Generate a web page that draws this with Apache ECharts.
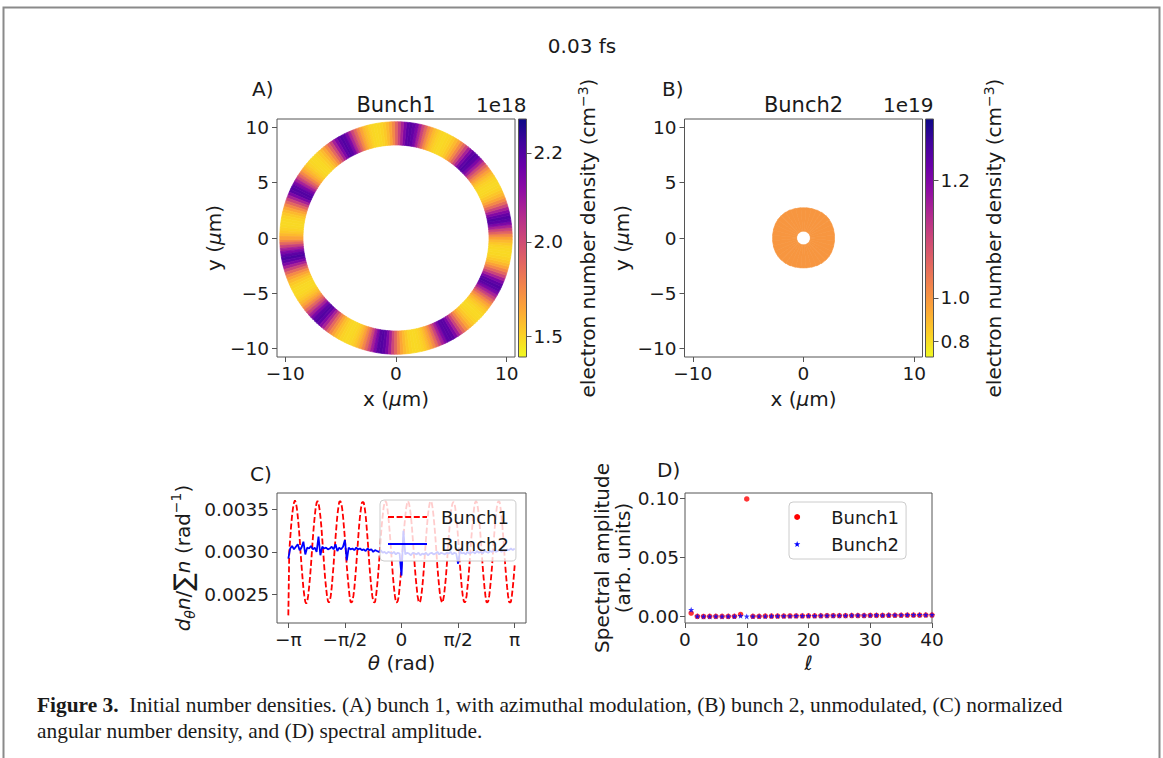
<!DOCTYPE html>
<html>
<head>
<meta charset="utf-8">
<title>Initial number densities</title>
<script src="https://cdn.jsdelivr.net/npm/echarts@6/dist/echarts.min.js"></script>
<style>
  html, body { margin: 0; padding: 0; background: #ffffff; }
  #chart { width: 1163px; height: 758px; }
</style>
</head>
<body>
<div id="chart"></div>
<script>
// ---------------- data ----------------
// d_theta n / sum n for bunch 1 (azimuthally modulated), rad^-1, every 1.5 deg from -180 deg
const bunch1StartDeg = -180;
const bunch1StepDeg = 1.5;
const bunch1Angular = [
  0.00225,
  0.00300, 0.00316, 0.00331, 0.00343, 0.00352, 0.00358, 0.00361, 0.00358, 0.00352, 0.00342, 0.00330, 0.00316,
  0.00299, 0.00284, 0.00270, 0.00257, 0.00248, 0.00241, 0.00239, 0.00241, 0.00248, 0.00258, 0.00270,
  0.00284, 0.00300, 0.00316, 0.00330, 0.00342, 0.00352, 0.00358, 0.00360, 0.00358, 0.00351, 0.00342, 0.00330,
  0.00315, 0.00300, 0.00284, 0.00269, 0.00258, 0.00248, 0.00242, 0.00240, 0.00242, 0.00248, 0.00258, 0.00271,
  0.00285, 0.00301, 0.00316, 0.00330, 0.00343, 0.00352, 0.00359, 0.00360, 0.00358, 0.00352, 0.00342, 0.00329,
  0.00316, 0.00300, 0.00283, 0.00270, 0.00258, 0.00247, 0.00241, 0.00240, 0.00242, 0.00248, 0.00257, 0.00270,
  0.00284, 0.00299, 0.00315, 0.00330, 0.00342, 0.00351, 0.00358, 0.00359, 0.00358, 0.00352, 0.00343, 0.00330,
  0.00316, 0.00300, 0.00284, 0.00270, 0.00258, 0.00248, 0.00242, 0.00240, 0.00241, 0.00248, 0.00258, 0.00270,
  0.00284, 0.00300, 0.00316, 0.00331, 0.00342, 0.00352, 0.00358, 0.00360, 0.00358, 0.00352, 0.00342, 0.00330,
  0.00316, 0.00301, 0.00285, 0.00270, 0.00258, 0.00248, 0.00241, 0.00240, 0.00242, 0.00247, 0.00258, 0.00270,
  0.00284, 0.00300, 0.00317, 0.00330, 0.00342, 0.00352, 0.00358, 0.00360, 0.00357, 0.00351, 0.00342, 0.00330,
  0.00315, 0.00300, 0.00284, 0.00270, 0.00259, 0.00248, 0.00242, 0.00240, 0.00242, 0.00248, 0.00258, 0.00270,
  0.00285, 0.00300, 0.00316, 0.00330, 0.00343, 0.00352, 0.00358, 0.00360, 0.00358, 0.00352, 0.00342, 0.00330,
  0.00316, 0.00300, 0.00283, 0.00270, 0.00258, 0.00248, 0.00243, 0.00240, 0.00242, 0.00248, 0.00258, 0.00269,
  0.00284, 0.00300, 0.00316, 0.00330, 0.00342, 0.00352, 0.00357, 0.00359, 0.00358, 0.00352, 0.00342, 0.00331,
  0.00317, 0.00300, 0.00284, 0.00270, 0.00257, 0.00248, 0.00242, 0.00240, 0.00242, 0.00248, 0.00259, 0.00270,
  0.00284, 0.00300, 0.00316, 0.00329, 0.00341, 0.00352, 0.00358, 0.00360, 0.00358, 0.00352, 0.00343, 0.00330,
  0.00316, 0.00300, 0.00284, 0.00270, 0.00258, 0.00248, 0.00241, 0.00240, 0.00242, 0.00248, 0.00258, 0.00270,
  0.00283, 0.00300, 0.00316, 0.00330, 0.00342, 0.00352, 0.00358, 0.00360, 0.00359, 0.00352, 0.00342, 0.00330,
  0.00316, 0.00300, 0.00284, 0.00270, 0.00258, 0.00248, 0.00241, 0.00240, 0.00241, 0.00248, 0.00258, 0.00270,
  0.00284
];

// d_theta n / sum n for bunch 2 (unmodulated), rad^-1, every 3 deg from -180 deg
const bunch2StartDeg = -180;
const bunch2StepDeg = 3;
const bunch2Angular = [
  0.00292, 0.00304, 0.00307, 0.00303, 0.00306, 0.00309, 0.00302, 0.00305, 0.00312, 0.00297, 0.00305, 0.00304,
  0.00307, 0.00303, 0.00305, 0.00300, 0.00318, 0.00296, 0.00306, 0.00304, 0.00305, 0.00303, 0.00304, 0.00306,
  0.00303, 0.00309, 0.00301, 0.00305, 0.00303, 0.00306, 0.00314, 0.00290, 0.00305, 0.00303, 0.00304, 0.00302,
  0.00305, 0.00303, 0.00304, 0.00302, 0.00303, 0.00301, 0.00304, 0.00302, 0.00303, 0.00300, 0.00302, 0.00301,
  0.00300, 0.00302, 0.00299, 0.00300, 0.00298, 0.00300, 0.00299, 0.00298, 0.00300, 0.00297, 0.00299, 0.00298,
  0.00272, 0.00325, 0.00297, 0.00299, 0.00298, 0.00296, 0.00299, 0.00298, 0.00297, 0.00299, 0.00296, 0.00298,
  0.00297, 0.00299, 0.00296, 0.00298, 0.00299, 0.00297, 0.00298, 0.00300, 0.00297, 0.00299, 0.00298, 0.00297,
  0.00299, 0.00298, 0.00300, 0.00297, 0.00299, 0.00298, 0.00286, 0.00301, 0.00298, 0.00299, 0.00297, 0.00300,
  0.00298, 0.00299, 0.00300, 0.00298, 0.00301, 0.00299, 0.00300, 0.00298, 0.00301, 0.00300, 0.00299, 0.00301,
  0.00300, 0.00302, 0.00300, 0.00301, 0.00303, 0.00300, 0.00302, 0.00301, 0.00303, 0.00302, 0.00304, 0.00302,
  0.00304
];

// bunch 1 transverse ring (panel A), micrometres; density in 1e18 cm^-3 per rad^-1 of angular density
const ringInner = 8.4;
const ringOuter = 10.5;
const ringDensityPerAngular = 611;

// bunch 2 disk (panel B): outer radius every 10 deg counter-clockwise from +x, micrometres
const bunch2Hole = 0.62;
const bunch2OuterStepDeg = 10;
const bunch2Outer = [
  2.80, 2.81, 2.83, 2.85, 2.86, 2.84, 2.80, 2.76, 2.74, 2.73, 2.74, 2.77,
  2.81, 2.84, 2.85, 2.84, 2.82, 2.80, 2.79, 2.80, 2.82, 2.83, 2.83, 2.81,
  2.78, 2.74, 2.71, 2.70, 2.71, 2.74, 2.78, 2.82, 2.84, 2.84, 2.82, 2.81
];
const bunch2DensityValue = 1.0;   // 1e19 cm^-3

// spectral amplitude vs azimuthal mode number (panel D)
const modeNumbers = [1, 2, 3, 4, 5, 6, 7, 8, 9, 10, 11, 12, 13, 14, 15, 16, 17, 18, 19, 20,
  21, 22, 23, 24, 25, 26, 27, 28, 29, 30, 31, 32, 33, 34, 35, 36, 37, 38, 39, 40];
const spectrumBunch1 = [
  0.0029, 0.0001, 0.0000, 0.0001, 0.0001, 0.0001, 0.0001, 0.0002, 0.0017, 0.0995,
  0.0002, 0.0002, 0.0003, 0.0003, 0.0004, 0.0004, 0.0005, 0.0005, 0.0005, 0.0006,
  0.0006, 0.0006, 0.0007, 0.0007, 0.0007, 0.0007, 0.0008, 0.0008, 0.0008, 0.0009,
  0.0009, 0.0009, 0.0010, 0.0010, 0.0010, 0.0011, 0.0011, 0.0011, 0.0012, 0.0012
];
const spectrumBunch2 = [
  0.0057, 0.0002, 0.0001, 0.0001, 0.0002, 0.0001, 0.0002, 0.0002, 0.0006, 0.0001,
  0.0002, 0.0003, 0.0003, 0.0004, 0.0004, 0.0005, 0.0005, 0.0006, 0.0006, 0.0007,
  0.0007, 0.0008, 0.0008, 0.0008, 0.0009, 0.0009, 0.0010, 0.0010, 0.0010, 0.0011,
  0.0012, 0.0011, 0.0012, 0.0013, 0.0013, 0.0014, 0.0014, 0.0015, 0.0014, 0.0015
];

// ticks
const xTicks = [-10, 0, 10];
const yTicks = [-10, -5, 0, 5, 10];
const cbarTicksA = [1.5, 2.0, 2.2];
const cbarTicksB = [0.8, 1.0, 1.2];
const thetaTicks = [-Math.PI, -Math.PI / 2, 0, Math.PI / 2, Math.PI];
const thetaTickLabels = ['−π', '−π/2', '0', 'π/2', 'π'];
const angularTicks = [0.0025, 0.0030, 0.0035];
const modeTicks = [0, 10, 20, 30, 40];
const spectrumTicks = [0, 0.05, 0.10];

// colour norms (power law, vmin = 0)
const normA = { vmax: 2.257, gamma: 6 };
const normB = { vmax: 1.2615, gamma: 6 };

// ---------------- layout & style ----------------
const FONT = 'DejaVu Sans';
const INK = '#1a1a1a';
const SPINE = '#555555';
const TICK_FS = 18.5;
const NAME_FS = 20;
const xyLim = 10.75;

const G = {
  A:   { left: 277,   top: 119, width: 238, height: 238 },
  cbA: { left: 518.5, top: 119, width: 8,   height: 238 },
  B:   { left: 684.5, top: 119, width: 238, height: 238 },
  cbB: { left: 925.5, top: 119, width: 8,   height: 238 },
  C:   { left: 277,   top: 493, width: 249, height: 130 },
  D:   { left: 685,   top: 493, width: 247, height: 130 }
};

const plasma = ['#0d0887', '#41049d', '#6a00a8', '#8f0da4', '#b12a90', '#cc4778',
                '#e16462', '#f2844b', '#fca636', '#fcce25', '#f0f921'];
const plasmaR = plasma.slice().reverse();
const cbarFill = {
  type: 'linear', x: 0, y: 1, x2: 0, y2: 0,
  colorStops: plasmaR.map((c, k) => ({ offset: k / (plasmaR.length - 1), color: c }))
};

const powerNorm = (n) => (v) => Math.pow(Math.max(v, 0) / n.vmax, n.gamma);
const toNormA = powerNorm(normA);
const toNormB = powerNorm(normB);
const minus = (s) => String(s).replace('-', '−');
const STAR = 'path://M0,-10L2.35,-3.24L9.51,-3.09L3.8,1.24L5.88,8.09L0,4L-5.88,8.09L-3.8,1.24L-9.51,-3.09L-2.35,-3.24Z';
const deg2rad = (d) => d * Math.PI / 180;

// ---------------- derived series data ----------------
const curve1 = bunch1Angular.map((v, i) => [deg2rad(bunch1StartDeg + i * bunch1StepDeg), v]);
const curve2 = bunch2Angular.map((v, i) => [deg2rad(bunch2StartDeg + i * bunch2StepDeg), v]);

// ring cells: [r0, r1, theta(deg), colour norm]; one cell per angular sample after -180 deg
const ringCells = bunch1Angular.slice(1).map((p, k) => [
  ringInner, ringOuter, bunch1StartDeg + (k + 1) * bunch1StepDeg, toNormA(p * ringDensityPerAngular)
]);
// disk cells
const diskCells = bunch2Outer.map((r, k) => [
  bunch2Hole, r, k * bunch2OuterStepDeg, toNormB(bunch2DensityValue)
]);

const spec1 = modeNumbers.map((l, k) => [l, spectrumBunch1[k]]);
const spec2 = modeNumbers.map((l, k) => [l, spectrumBunch2[k]]);

// ---------------- helpers ----------------
function gridOf(g, extra) {
  return Object.assign({ left: g.left, top: g.top, width: g.width, height: g.height, show: true,
    borderColor: SPINE, borderWidth: 1, backgroundColor: 'transparent', containLabel: false }, extra || {});
}
const richName = {
  i: { fontStyle: 'italic', fontFamily: FONT, fontSize: NAME_FS, color: INK },
  sub: { fontStyle: 'italic', fontFamily: FONT, fontSize: 14, color: INK, verticalAlign: 'bottom' },
  sup: { fontFamily: FONT, fontSize: 14, color: INK, verticalAlign: 'top' },
  big: { fontFamily: FONT, fontSize: 26, color: INK }
};
function valueAxis(o) {
  return {
    type: 'value', gridIndex: o.grid, min: o.min, max: o.max, position: o.position,
    axisLine: { show: false, onZero: false },
    splitLine: { show: false },
    axisTick: { show: true, length: 5, lineStyle: { color: SPINE, width: 1 }, customValues: o.ticks },
    axisLabel: { show: true, customValues: o.ticks, formatter: o.fmt, color: INK,
      fontFamily: FONT, fontSize: TICK_FS, margin: o.margin == null ? 7 : o.margin },
    name: o.name || '', nameLocation: 'middle', nameGap: o.nameGap || 0, nameRotate: o.nameRotate,
    nameTextStyle: { fontFamily: FONT, fontSize: NAME_FS, color: INK, lineHeight: o.lineHeight || 24, rich: richName }
  };
}
function hiddenAxis(grid) {
  return { type: 'value', gridIndex: grid, min: 0, max: 1, show: false, axisLine: { onZero: false } };
}
function cbarLabel(ticks, norm) {
  return (v) => {
    let best = 0;
    ticks.forEach((t, k) => { if (Math.abs(norm(t) - v) < Math.abs(norm(ticks[best]) - v)) best = k; });
    return ticks[best].toFixed(1);
  };
}
// annular cell in a polar system: radii and angle converted through the polar axes
function annularCell(halfStepDeg) {
  return function (params, api) {
    const cx = params.coordSys.cx, cy = params.coordSys.cy;
    const r0v = api.value(0), r1v = api.value(1), th = api.value(2);
    const pIn = api.coord([r0v, th]);
    const pA = api.coord([r1v, th - halfStepDeg]);
    const pB = api.coord([r1v, th + halfStepDeg]);
    const r0 = Math.hypot(pIn[0] - cx, pIn[1] - cy);
    const r = Math.hypot(pA[0] - cx, pA[1] - cy);
    let a0 = Math.atan2(pB[1] - cy, pB[0] - cx);
    let a1 = Math.atan2(pA[1] - cy, pA[0] - cx);
    if (a1 < a0) a1 += Math.PI * 2;
    const color = api.visual('color');
    return {
      type: 'sector',
      shape: { cx: cx, cy: cy, r0: r0, r: r, startAngle: a0, endAngle: a1, clockwise: true },
      style: { fill: color, stroke: color, lineWidth: 0.7 }
    };
  };
}
function txt(s, x, y, size, align) {
  return {
    type: 'text', silent: true, x: x, y: y,
    style: { text: s, font: size + 'px "' + FONT + '"', fill: INK, textAlign: align, align: align,
             textVerticalAlign: 'middle', verticalAlign: 'middle' }
  };
}

const xFmt = (v) => minus(Math.round(v));
const legendBox = {
  orient: 'vertical', backgroundColor: 'rgba(255,255,255,0.8)', borderColor: '#cccccc',
  borderWidth: 1, borderRadius: 4, selectedMode: false,
  textStyle: { fontFamily: FONT, fontSize: 18, color: INK, padding: [0, 0, 0, 9] }
};
const polarAngle = (idx) => ({ polarIndex: idx, type: 'value', min: -180, max: 180, startAngle: 180,
  clockwise: false, show: false });
const polarRadius = (idx) => ({ polarIndex: idx, type: 'value', min: 0, max: xyLim, show: false });

// ---------------- option ----------------
const option = {
  animation: false,
  backgroundColor: '#ffffff',
  grid: [gridOf(G.A), gridOf(G.cbA, { backgroundColor: cbarFill }), gridOf(G.B),
         gridOf(G.cbB, { backgroundColor: cbarFill }), gridOf(G.C), gridOf(G.D)],
  xAxis: [
    valueAxis({ grid: 0, min: -xyLim, max: xyLim, ticks: xTicks, fmt: xFmt, name: 'x ({i|μ}m)', nameGap: 30 }),
    hiddenAxis(1),
    valueAxis({ grid: 2, min: -xyLim, max: xyLim, ticks: xTicks, fmt: xFmt, name: 'x ({i|μ}m)', nameGap: 30 }),
    hiddenAxis(3),
    valueAxis({ grid: 4, min: -Math.PI * 1.1, max: Math.PI * 1.1, ticks: thetaTicks,
      fmt: (v) => thetaTickLabels[thetaTicks.findIndex((t) => Math.abs(t - v) < 1e-6)] || '',
      name: '{i|θ} (rad)', nameGap: 28 }),
    valueAxis({ grid: 5, min: 0, max: 40, ticks: modeTicks, fmt: (v) => String(v), name: '{i|ℓ}', nameGap: 28 })
  ],
  yAxis: [
    valueAxis({ grid: 0, min: -xyLim, max: xyLim, ticks: yTicks, fmt: xFmt, name: 'y ({i|μ}m)', nameGap: 51, margin: 8 }),
    valueAxis({ grid: 1, min: 0, max: 1, position: 'right', ticks: cbarTicksA.map(toNormA),
      fmt: cbarLabel(cbarTicksA, toNormA), name: 'electron number density (cm{sup|−3})', nameGap: 49, nameRotate: 90 }),
    valueAxis({ grid: 2, min: -xyLim, max: xyLim, ticks: yTicks, fmt: xFmt, name: 'y ({i|μ}m)', nameGap: 51, margin: 8 }),
    valueAxis({ grid: 3, min: 0, max: 1, position: 'right', ticks: cbarTicksB.map(toNormB),
      fmt: cbarLabel(cbarTicksB, toNormB), name: 'electron number density (cm{sup|−3})', nameGap: 48, nameRotate: 90 }),
    valueAxis({ grid: 4, min: 0.00216, max: 0.003695, ticks: angularTicks, fmt: (v) => v.toFixed(4),
      name: '{i|d}{sub|θ}{i|n}/{big|∑}{i|n} (rad{sup|−1})', nameGap: 80, margin: 8, lineHeight: 28 }),
    valueAxis({ grid: 5, min: -0.0055, max: 0.1045, ticks: spectrumTicks, fmt: (v) => v.toFixed(2),
      name: 'Spectral amplitude\n(arb. units)', nameGap: 46, margin: 6, lineHeight: 21 })
  ],
  polar: [
    { center: [G.A.left + G.A.width / 2, G.A.top + G.A.height / 2], radius: G.A.width / 2 },
    { center: [G.B.left + G.B.width / 2, G.B.top + G.B.height / 2], radius: G.B.width / 2 }
  ],
  angleAxis: [polarAngle(0), polarAngle(1)],
  radiusAxis: [polarRadius(0), polarRadius(1)],
  visualMap: [
    { type: 'continuous', show: false, seriesIndex: 0, dimension: 3, min: 0, max: 1, inRange: { color: plasmaR } },
    { type: 'continuous', show: false, seriesIndex: 1, dimension: 3, min: 0, max: 1, inRange: { color: plasmaR } }
  ],
  legend: [
    Object.assign({}, legendBox, {
      data: ['Bunch1', 'Bunch2'], left: 380, top: 500,
      padding: [8, 7, 8, 7], itemGap: 9, itemWidth: 39, itemHeight: 14,
      itemStyle: { opacity: 0 }
    }),
    Object.assign({}, legendBox, {
      data: [{ name: 'Bunch1', icon: 'circle', itemStyle: { opacity: 1 } },
             { name: 'Bunch2', icon: STAR, itemStyle: { opacity: 1 } }],
      left: 789, top: 502,
      padding: [6, 7, 6, 5], itemGap: 9, itemWidth: 40, itemHeight: 6
    })
  ],
  series: [
    { name: 'ringDensity', type: 'custom', coordinateSystem: 'polar', polarIndex: 0, silent: true,
      dimensions: ['r0', 'r1', 'theta', 'norm'], encode: { radius: 1, angle: 2 },
      renderItem: annularCell(bunch1StepDeg / 2), data: ringCells },
    { name: 'diskDensity', type: 'custom', coordinateSystem: 'polar', polarIndex: 1, silent: true,
      dimensions: ['r0', 'r1', 'theta', 'norm'], encode: { radius: 1, angle: 2 },
      renderItem: annularCell(bunch2OuterStepDeg / 2), data: diskCells },
    { name: 'Bunch1', type: 'line', xAxisIndex: 4, yAxisIndex: 4, data: curve1, symbol: 'none',
      color: '#ff0000', lineStyle: { color: '#ff0000', width: 1.8, type: [6, 2.6] }, silent: true },
    { name: 'Bunch2', type: 'line', xAxisIndex: 4, yAxisIndex: 4, data: curve2, symbol: 'none',
      color: '#0000ff', lineStyle: { color: '#0000ff', width: 1.8 }, silent: true },
    { name: 'Bunch1', type: 'scatter', xAxisIndex: 5, yAxisIndex: 5, data: spec1, symbol: 'circle',
      symbolSize: 5.5, itemStyle: { color: '#ff0000' }, silent: true },
    { name: 'Bunch2', type: 'scatter', xAxisIndex: 5, yAxisIndex: 5, data: spec2, symbol: STAR,
      symbolSize: 6, itemStyle: { color: '#0000ff' }, silent: true }
  ],
  graphic: [
    { type: 'polyline', silent: true, shape: { points: [[3.5, 758], [3.5, 7.5], [1159.5, 7.5], [1159.5, 758]] },
      style: { stroke: '#8a8a8a', lineWidth: 2, fill: null } },
    txt('0.03 fs', 582, 46, 20, 'center'),
    txt('A)', 252, 89, 20, 'left'),
    txt('B)', 662, 89, 20, 'left'),
    txt('C)', 250, 474, 20, 'left'),
    txt('D)', 657, 470, 20, 'left'),
    txt('Bunch1', 396, 105, 21, 'center'),
    txt('1e18', 526.5, 105, 20, 'right'),
    txt('Bunch2', 803.5, 105, 21, 'center'),
    txt('1e19', 933.5, 105, 20, 'right'),
    {
      type: 'text', silent: true, x: 37, y: 705,
      style: {
        text: '{b|Figure 3.}  Initial number densities. (A) bunch 1, with azimuthal modulation, (B) bunch 2, unmodulated, (C) normalized',
        font: '21.4px "Liberation Serif"', fill: '#1a1a1a', textAlign: 'left', align: 'left',
        textVerticalAlign: 'middle', verticalAlign: 'middle',
        rich: { b: { fontWeight: 'bold', fontFamily: 'Liberation Serif', fontSize: 21.4, fill: '#1a1a1a' } }
      }
    },
    {
      type: 'text', silent: true, x: 37, y: 731,
      style: {
        text: 'angular number density, and (D) spectral amplitude.',
        font: '21.4px "Liberation Serif"', fill: '#1a1a1a', textAlign: 'left', align: 'left',
        textVerticalAlign: 'middle', verticalAlign: 'middle'
      }
    }
  ]
};

const chart = echarts.init(document.getElementById('chart'), null, { renderer: 'svg', width: 1163, height: 758 });
chart.setOption(option);
</script>
</body>
</html>
